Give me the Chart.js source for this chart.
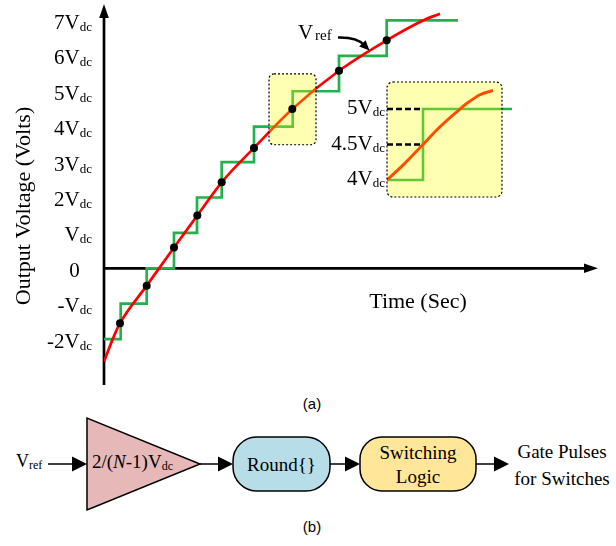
<!DOCTYPE html>
<html>
<head>
<meta charset="utf-8">
<script src="https://cdn.jsdelivr.net/npm/chart.js@4.4.1/dist/chart.umd.min.js"></script>
<style>
  body { margin: 0; background: #fff; }
  #wrap { position: relative; width: 616px; height: 546px; overflow: hidden; }
  #wrap canvas, #wrap svg { position: absolute; }
  #block { left: 0; top: 0; }
  #main { left: 0; top: 0; }
  #zoom { left: 300px; top: 75px; }
  svg text { font-family: "Liberation Serif", "Times New Roman", serif; fill: #000; }
  svg .cap { font-family: "Liberation Sans", Arial, sans-serif; font-size: 15px; }
</style>
</head>
<body>
<div id="wrap">
  <svg id="block" width="616" height="546">
    <text class="cap" x="312" y="409" text-anchor="middle">(a)</text>

    <text x="16" y="467" font-size="18">V<tspan font-size="12" dy="2">ref</tspan></text>
    <line x1="48" y1="464" x2="74" y2="464" stroke="#000" stroke-width="1.5"/>
    <polygon points="72,456.5 87,464 72,471.5" fill="#000"/>

    <polygon points="87,418 87,510 200,464" fill="#E6B9B8" stroke="#000" stroke-width="1.5"/>
    <text x="92" y="468" font-size="19">2/(<tspan font-style="italic">N</tspan>-1)V<tspan font-size="12" dy="2">dc</tspan></text>

    <line x1="200" y1="464" x2="220" y2="464" stroke="#000" stroke-width="1.5"/>
    <polygon points="218,456.5 233,464 218,471.5" fill="#000"/>

    <rect x="233" y="437" width="97" height="54" rx="24" fill="#B7DEE8" stroke="#000" stroke-width="1.5"/>
    <text x="281.5" y="471" text-anchor="middle" font-size="19">Round{}</text>

    <line x1="330" y1="464" x2="347" y2="464" stroke="#000" stroke-width="1.5"/>
    <polygon points="345,456.5 360,464 345,471.5" fill="#000"/>

    <rect x="360" y="437" width="116" height="54" rx="22" fill="#FFE699" stroke="#000" stroke-width="1.5"/>
    <text x="418" y="459" text-anchor="middle" font-size="19">Switching</text>
    <text x="418" y="483" text-anchor="middle" font-size="19">Logic</text>

    <line x1="476" y1="464" x2="496" y2="464" stroke="#000" stroke-width="1.5"/>
    <polygon points="494,456.5 509,464 494,471.5" fill="#000"/>

    <text x="562" y="458" text-anchor="middle" font-size="19">Gate Pulses</text>
    <text x="562" y="485" text-anchor="middle" font-size="19">for Switches</text>

    <text class="cap" x="312" y="532" text-anchor="middle">(b)</text>
  </svg>
  <canvas id="main" width="616" height="392"></canvas>
  <canvas id="zoom" width="220" height="130"></canvas>
</div>

<script>
// staircase output (level in multiples of Vdc), time in arbitrary units
const stepTimes = [0, 16.7, 42.7, 70, 93, 117.7, 150, 188.7, 235, 282.7, 354];
const stepLevels = [-2, -1, 0, 1, 2, 3, 4, 5, 6, 7, 7];

// reference voltage curve
const refTimes = [0, 8.7, 16, 42.7, 70, 93.3, 117.7, 150, 188.3, 235, 282.7, 319, 336];
const refLevels = [-2.64, -2.0, -1.55, -0.49, 0.59, 1.49, 2.43, 3.40, 4.50, 5.58, 6.44, 7.0, 7.19];

// sampling points (black dots)
const sampleTimes = [16, 42.7, 70, 93.3, 117.7, 150, 188.3, 235, 282.7];
const sampleLevels = [-1.55, -0.49, 0.59, 1.49, 2.43, 3.40, 4.50, 5.58, 6.44];

// y tick labels
const tickLevels = [-2, -1, 0, 1, 2, 3, 4, 5, 6, 7];
const tickLabels = ['-2V', '-V', '0', 'V', '2V', '3V', '4V', '5V', '6V', '7V'];
const tickSubs = ['dc', 'dc', '', 'dc', 'dc', 'dc', 'dc', 'dc', 'dc', 'dc'];

// zoomed inset
const zoomStepTimes = [0, 36, 125];
const zoomStepLevels = [4, 5, 5];
const zoomRefTimes = [0, 16, 36, 53, 73, 80, 93, 106];
const zoomRefLevels = [4, 4.21, 4.5, 4.75, 5.0, 5.08, 5.2, 5.26];
const zoomMarkLevels = [4.5, 5];
const zoomTickLevels = [4, 4.5, 5];
const zoomTickLabels = ['4V', '4.5V', '5V'];

const SERIF = '"Liberation Serif", "Times New Roman", serif';
const GREEN = '#22B14C';
const RED = '#FF0000';

function pts(xs, ys) {
  return xs.map((x, i) => ({ x: x, y: ys[i] }));
}

function subText(ctx, main, sub, xRight, yBase, size, subSize) {
  ctx.font = subSize + 'px ' + SERIF;
  const wSub = ctx.measureText('dc').width;
  ctx.font = size + 'px ' + SERIF;
  const wMain = ctx.measureText(main).width;
  const x0 = xRight - wSub - wMain;
  ctx.textAlign = 'left';
  ctx.textBaseline = 'alphabetic';
  ctx.fillStyle = '#000';
  ctx.fillText(main, x0, yBase);
  if (sub) {
    ctx.font = subSize + 'px ' + SERIF;
    ctx.fillText(sub, x0 + wMain, yBase + 2);
  }
}

function hiBox(ctx, x1, y1, x2, y2, r) {
  ctx.save();
  ctx.beginPath();
  ctx.roundRect(x1, y1, x2 - x1, y2 - y1, r);
  ctx.fillStyle = 'rgba(255,255,0,0.3)';
  ctx.fill();
  ctx.setLineDash([2, 2]);
  ctx.lineWidth = 1.2;
  ctx.strokeStyle = '#000';
  ctx.stroke();
  ctx.restore();
}

const mainDecor = {
  id: 'mainDecor',
  beforeDatasetsDraw(chart) {
    const { ctx, chartArea: a, scales: { x, y } } = chart;
    const x0 = x.getPixelForValue(0);
    const y0 = y.getPixelForValue(0);
    ctx.save();
    ctx.strokeStyle = '#000';
    ctx.fillStyle = '#000';
    ctx.lineWidth = 2.7;
    ctx.beginPath();
    ctx.moveTo(x0, a.bottom);
    ctx.lineTo(x0, a.top + 10);
    ctx.moveTo(x0, y0);
    ctx.lineTo(a.right - 10, y0);
    ctx.stroke();
    ctx.beginPath();
    ctx.moveTo(x0, a.top);
    ctx.lineTo(x0 - 4.8, a.top + 14);
    ctx.lineTo(x0 + 4.8, a.top + 14);
    ctx.closePath();
    ctx.fill();
    ctx.beginPath();
    ctx.moveTo(a.right, y0);
    ctx.lineTo(a.right - 14, y0 - 4.8);
    ctx.lineTo(a.right - 14, y0 + 4.8);
    ctx.closePath();
    ctx.fill();
    ctx.restore();
  },
  afterDatasetDraw(chart, args) {
    if (args.index !== 1) return;
    const { ctx, scales: { x, y } } = chart;
    hiBox(ctx, x.getPixelForValue(165), y.getPixelForValue(5.49),
      x.getPixelForValue(212), y.getPixelForValue(3.49), 5);
  },
  afterDatasetsDraw(chart) {
    const { ctx, scales: { x, y } } = chart;
    ctx.save();
    tickLevels.forEach((lv, i) => {
      subText(ctx, tickLabels[i], tickSubs[i], 92, y.getPixelForValue(lv) + 8.5, 21, 13);
    });
    // axis titles
    ctx.fillStyle = '#000';
    ctx.font = '22px ' + SERIF;
    ctx.textAlign = 'center';
    ctx.textBaseline = 'alphabetic';
    ctx.fillText('Time (Sec)', 418, 308);
    ctx.save();
    ctx.translate(30, 206);
    ctx.rotate(-Math.PI / 2);
    ctx.fillText('Output Voltage (Volts)', 0, 0);
    ctx.restore();
    // Vref label with curved arrow
    ctx.textAlign = 'left';
    ctx.font = '21px ' + SERIF;
    ctx.fillText('V', 298, 39);
    ctx.font = '15px ' + SERIF;
    ctx.fillText('ref', 315, 40);
    ctx.strokeStyle = '#000';
    ctx.lineWidth = 2.6;
    ctx.beginPath();
    ctx.moveTo(338, 37.5);
    ctx.quadraticCurveTo(357, 37, 364, 45);
    ctx.stroke();
    ctx.beginPath();
    ctx.moveTo(369.5, 50.5);
    ctx.lineTo(359.2, 46.6);
    ctx.lineTo(365.6, 40.2);
    ctx.closePath();
    ctx.fill();
    ctx.restore();
  }
};

new Chart(document.getElementById('main'), {
  type: 'line',
  data: {
    datasets: [
      {
        label: 'Samples',
        data: pts(sampleTimes, sampleLevels),
        showLine: false,
        pointRadius: 4,
        pointBackgroundColor: '#000',
        pointBorderWidth: 0,
        order: 0
      },
      {
        label: 'Vref',
        data: pts(refTimes, refLevels),
        borderColor: RED,
        borderWidth: 2.7,
        pointRadius: 0,
        cubicInterpolationMode: 'monotone',
        order: 1
      },
      {
        label: 'Output',
        data: pts(stepTimes, stepLevels),
        borderColor: GREEN,
        borderWidth: 2.7,
        pointRadius: 0,
        stepped: 'before',
        order: 2
      }
    ]
  },
  options: {
    responsive: false,
    animation: false,
    events: [],
    layout: { padding: { left: 104, right: 18, top: 3, bottom: 7 } },
    scales: {
      x: { type: 'linear', min: 0, max: 494, display: false },
      y: { type: 'linear', min: -3.296, max: 7.465, display: false }
    },
    plugins: { legend: { display: false }, tooltip: { enabled: false } }
  },
  plugins: [mainDecor]
});

const zoomDecor = {
  id: 'zoomDecor',
  afterDatasetDraw(chart, args) {
    if (args.index !== 2) return;
    const { ctx, chartArea: a, scales: { x } } = chart;
    hiBox(ctx, x.getPixelForValue(0), a.top, x.getPixelForValue(115), a.bottom, 6);
  },
  afterDatasetsDraw(chart) {
    const { ctx, scales: { x, y } } = chart;
    ctx.save();
    zoomTickLevels.forEach((lv, i) => {
      subText(ctx, zoomTickLabels[i], 'dc', x.getPixelForValue(0) - 2, y.getPixelForValue(lv) + 5.5, 21, 13);
    });
    ctx.restore();
  }
};

new Chart(document.getElementById('zoom'), {
  type: 'line',
  data: {
    datasets: [
      {
        label: '5Vdc mark',
        data: pts([0, zoomStepTimes[1]], [zoomMarkLevels[1], zoomMarkLevels[1]]),
        borderColor: '#000',
        borderWidth: 2.6,
        borderDash: [6, 3],
        pointRadius: 0,
        order: 0
      },
      {
        label: '4.5Vdc mark',
        data: pts([0, zoomStepTimes[1]], [zoomMarkLevels[0], zoomMarkLevels[0]]),
        borderColor: '#000',
        borderWidth: 2.6,
        borderDash: [6, 3],
        pointRadius: 0,
        order: 0
      },
      {
        label: 'Vref',
        data: pts(zoomRefTimes, zoomRefLevels),
        borderColor: RED,
        borderWidth: 3,
        pointRadius: 0,
        cubicInterpolationMode: 'monotone',
        order: 1
      },
      {
        label: 'Output',
        data: pts(zoomStepTimes, zoomStepLevels),
        borderColor: GREEN,
        borderWidth: 2.6,
        pointRadius: 0,
        stepped: 'before',
        order: 2
      }
    ]
  },
  options: {
    responsive: false,
    animation: false,
    events: [],
    layout: { padding: { left: 87, right: 8, top: 7, bottom: 8 } },
    scales: {
      x: { type: 'linear', min: 0, max: 125, display: false },
      y: { type: 'linear', min: 3.76, max: 5.38, display: false }
    },
    plugins: { legend: { display: false }, tooltip: { enabled: false } }
  },
  plugins: [zoomDecor]
});
</script>
</body>
</html>
